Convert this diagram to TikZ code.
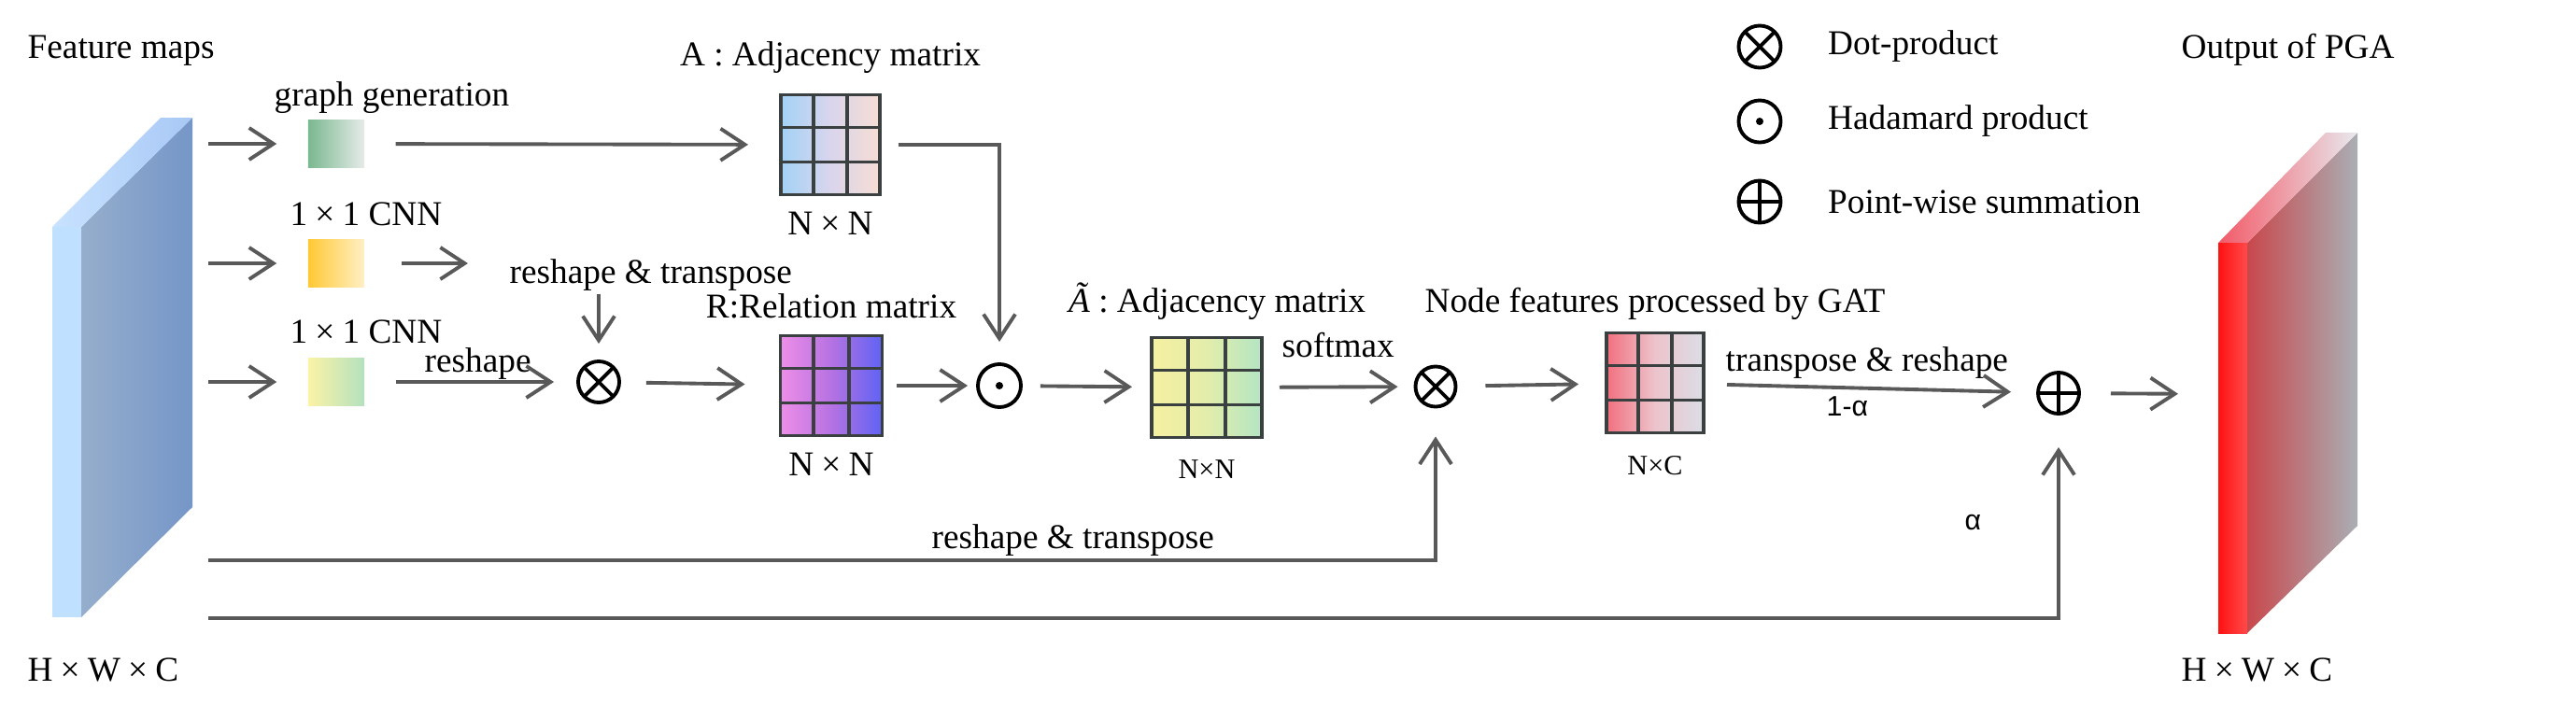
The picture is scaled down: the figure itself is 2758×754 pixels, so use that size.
\documentclass[tikz,border=0pt]{standalone}
\usepackage{fontspec}
\setmainfont{Liberation Serif}
\newfontfamily\sanslab{Liberation Sans}
\usetikzlibrary{positioning}
\usetikzlibrary{calc}
\usetikzlibrary{arrows.meta}
\definecolor{linegray}{HTML}{595959}
\definecolor{gridcol}{HTML}{3A3F40}
\definecolor{inside1}{HTML}{96AECC}
\definecolor{inside2}{HTML}{7596C8}
\definecolor{intop1}{HTML}{C8E2FF}
\definecolor{intop2}{HTML}{A8C8F5}
\definecolor{infront}{HTML}{C0E0FF}
\definecolor{outside1}{HTML}{C8484C}
\definecolor{outside2}{HTML}{A9AFB5}
\definecolor{outtop1}{HTML}{F25A68}
\definecolor{outtop2}{HTML}{E8E9EE}
\definecolor{outfront1}{HTML}{FF1212}
\definecolor{outfront2}{HTML}{FF4A4A}
\definecolor{gg1}{HTML}{7AB890}
\definecolor{gg2}{HTML}{E6EBE8}
\definecolor{yy1}{HTML}{FFC935}
\definecolor{yy2}{HTML}{FFEFC5}
\definecolor{cc1}{HTML}{FBF3A6}
\definecolor{cc2}{HTML}{B4E1BF}
\definecolor{aa1}{HTML}{A3D2F6}
\definecolor{aa2}{HTML}{D9D5EC}
\definecolor{aa3}{HTML}{F6DDD3}
\definecolor{rr1}{HTML}{EE8EE8}
\definecolor{rr2}{HTML}{B572E2}
\definecolor{rr3}{HTML}{5F63F4}
\definecolor{tt1}{HTML}{F6F0A0}
\definecolor{tt2}{HTML}{E3EDAB}
\definecolor{tt3}{HTML}{B3E5C3}
\definecolor{ff1}{HTML}{F2707F}
\definecolor{ff2}{HTML}{ECC4CC}
\definecolor{ff3}{HTML}{DBDDE6}
\newcommand{\wx}{\makebox[1em]{×}}
\tikzset{
lab/.style={inner sep=0pt, font=\fontsize{10.6}{12}\selectfont},
smalllab/.style={inner sep=0pt, font=\fontsize{8.6}{10}\selectfont},
alab/.style={inner sep=0pt, font=\sanslab\fontsize{8.6}{10}\selectfont},
flow/.style={draw=linegray, line width=1.1pt,
	-{Straight Barb[length=2.6mm,width=3.4mm]}},
connect/.style={draw=linegray, line width=1.1pt},
convbox/.style 2 args={left color=#1, right color=#2, minimum width=0.6cm,
	minimum height=0.51cm, inner sep=0pt},
mat/.style n args={3}{draw=gridcol, line width=1.1pt, left color=#1,
	right color=#3, middle color=#2, minimum height=1.07cm, inner sep=0pt},
gridline/.style={draw=gridcol, line width=1.1pt},
op/.style={circle, draw=black, line width=1.1pt, minimum size=#1, inner sep=0pt},
otimesop/.style={op=#1, path picture={
	\draw[line width=1.1pt] (path picture bounding box.north west) -- (path picture bounding box.south east)
		(path picture bounding box.north east) -- (path picture bounding box.south west);}},
odotop/.style={op=#1, path picture={
	\fill (path picture bounding box.center) circle (4);}},
oplusop/.style={op=#1, path picture={
	\draw[line width=1.1pt] (path picture bounding box.north) -- (path picture bounding box.south)
		(path picture bounding box.west) -- (path picture bounding box.east);}},
}

\begin{document}
\begin{tikzpicture}[x=0.01cm, y=-0.01cm]
\useasboundingbox (0,0) rectangle (2758,754);

% input feature maps
\shade[left color=inside1, right color=inside2] (87,243) -- (206,126) -- (206,543) -- (87,661) -- cycle;
\shade[left color=intop1, right color=intop2] (56,243) -- (172,126) -- (206,126) -- (87,243) -- cycle;
\fill[infront] (56,243) rectangle (87,661);
\coordinate (fm1) at (206,154);
\coordinate (fm2) at (206,282);
\coordinate (fm3) at (206,409);
\coordinate (fm4) at (206,600);
\coordinate (fm5) at (206,662);
\node[lab, anchor=base west] (fmtxt) at (29,62) {Feature maps};
\node[lab, anchor=base west] (fmsize) at (29,729) {H\wx W\wx C};

% output of PGA
\shade[left color=outside1, right color=outside2] (2406,260) -- (2524,142) -- (2524,563) -- (2406,678) -- cycle;
\shade[left color=outtop1, right color=outtop2] (2375,260) -- (2490,142) -- (2524,142) -- (2406,260) -- cycle;
\shade[left color=outfront1, right color=outfront2] (2375,260) rectangle (2406,678);
\coordinate (outin) at (2375,422);
\node[lab, anchor=base west] (outtxt) at (2335,62) {Output of PGA};
\node[lab, anchor=base west] (outsize) at (2335,729) {H\wx W\wx C};

% three branches
\node[convbox={gg1}{gg2}] (gsq) at (360,154) {};
\node[convbox={yy1}{yy2}] (ysq) at (360,282) {};
\node[convbox={cc1}{cc2}] (csq) at (360,409) {};
\node[lab, anchor=base west] (ggtxt) at (293,113) {graph generation};
\node[lab, anchor=base west] (cnn1) at (310,241) {1\wx 1 CNN};
\node[lab, anchor=base west] (cnn2) at (310,367) {1\wx 1 CNN};
\node[lab, anchor=base west] (rtl) at (545,303) {reshape \& transpose};
\node[lab, anchor=base west] (rsh) at (454,398) {reshape};

% matrices
\node[mat={aa1}{aa2}{aa3}, minimum width=1.06cm] (amat) at (889,155) {};
\node[mat={rr1}{rr2}{rr3}, minimum width=1.09cm] (rmat) at (890,413) {};
\node[mat={tt1}{tt2}{tt3}, minimum width=1.18cm] (tmat) at (1292,415) {};
\node[mat={ff1}{ff2}{ff3}, minimum width=1.04cm] (fmat) at (1772,410) {};
\foreach \mx in {amat, rmat, tmat, fmat}
	\foreach \f in {0.3333, 0.6667} {
		\draw[gridline] ($(\mx.north west)!\f!(\mx.north east)$) -- ($(\mx.south west)!\f!(\mx.south east)$);
		\draw[gridline] ($(\mx.north west)!\f!(\mx.south west)$) -- ($(\mx.north east)!\f!(\mx.south east)$);
	}
\node[lab, above=2mm of amat] (atxt) {A : Adjacency matrix};
\node[lab, below=1.6mm of amat] (asize) {N\wx N};
\node[lab, above=1.6mm of rmat] (rtxt) {R:Relation matrix};
\node[lab, below=1.6mm of rmat] (rsize) {N\wx N};
\node[lab, above=1.6mm of tmat, xshift=1.1mm] (ttxt) {\textit{Ã} : Adjacency matrix};
\node[smalllab, below=2.2mm of tmat] (tsize) {N×N};
\node[lab, above=1.1mm of fmat] (ftxt) {Node features processed by GAT};
\node[smalllab, below=2.2mm of fmat] (fsize) {N×C};

% operators
\node[otimesop=0.44cm] (m1) at (641,409) {};
\node[odotop=0.46cm] (had) at (1070,413) {};
\node[otimesop=0.43cm] (m2) at (1537,414) {};
\node[oplusop=0.44cm] (sum) at (2204,421) {};
\node[lab, anchor=base west] (smx) at (1372,382) {softmax};
\node[lab, anchor=base west] (trs) at (1847,397) {transpose \& reshape};
\node[alab, anchor=base west] (onea) at (1955,445) {1-α};
\node[lab, anchor=base west] (rtb) at (997,587) {reshape \& transpose};
\node[alab, anchor=base west] (alp) at (2103,567) {α};

% legend
\node[otimesop=0.45cm] (lg1) at (1884,50) {};
\node[odotop=0.45cm] (lg2) at (1884,130) {};
\node[oplusop=0.45cm] (lg3) at (1884,216) {};
\node[lab, right=4.8mm of lg1] (lgt1) {Dot-product};
\node[lab, right=4.8mm of lg2] (lgt2) {Hadamard product};
\node[lab, right=4.8mm of lg3] (lgt3) {Point-wise summation};

%
\draw[flow, shorten <=1.7mm, shorten >=3.3mm] (fm1) -- (gsq);
\draw[flow, shorten <=1.7mm, shorten >=3.3mm] (fm2) -- (ysq);
\draw[flow, shorten <=1.7mm, shorten >=3.3mm] (fm3) -- (csq);

%
\draw[flow, shorten <=3.3mm, shorten >=3.3mm] (gsq) -- (amat);
\draw[flow, shorten <=3.9mm, shorten >=4.4mm] (ysq) -- (ysq -| rtl.west);
\draw[flow, shorten <=0.3mm, shorten >=1.7mm] (m1 |- rtl.south) -- (m1);
\draw[flow, shorten <=3.3mm, shorten >=2.4mm] (csq) -- (m1);

%
\draw[flow, shorten <=2.7mm, shorten >=3.6mm] (m1) -- (rmat);
\draw[flow, shorten <=1.4mm, shorten >=0.9mm] (rmat) -- (had);
\draw[flow, shorten <=1.8mm, shorten >=2.2mm] (amat) -| (had);
\draw[flow, shorten <=1.9mm, shorten >=1.9mm] (had) -- (tmat);
\draw[flow, shorten <=1.7mm, shorten >=1.7mm] (tmat) -- (m2);
\draw[flow, shorten <=3mm, shorten >=2.8mm] (m2) -- (fmat);
\draw[flow, shorten <=2.3mm, shorten >=2.7mm] (fmat) -- (sum);
\draw[flow, shorten <=3.2mm, shorten >=4.3mm] (sum) -- (outin);

%
\draw[flow, shorten <=1.7mm, shorten >=3mm] (fm4) -| (m2);
\draw[flow, shorten <=1.7mm, shorten >=3.4mm] (fm5) -| (sum);
\end{tikzpicture}
\end{document}
